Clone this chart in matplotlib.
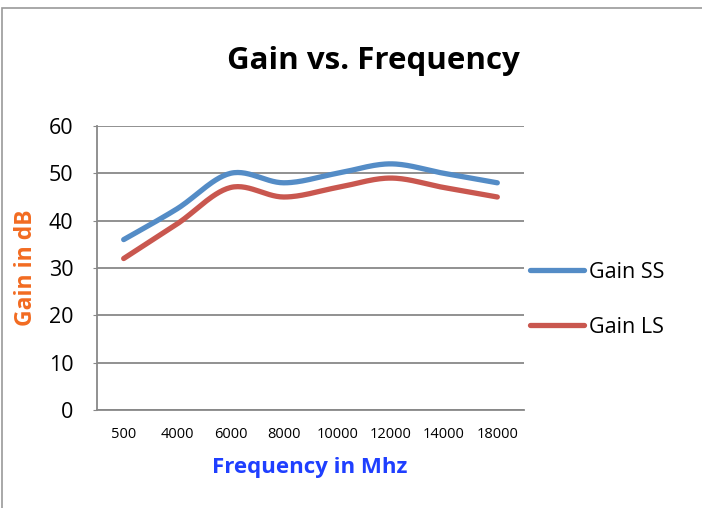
import numpy as np
import matplotlib
matplotlib.use("Agg")
import matplotlib.pyplot as plt
from matplotlib.patches import Rectangle
from matplotlib.lines import Line2D

categories = ["500", "4000", "6000", "8000", "10000", "12000", "14000", "18000"]
gain_ss = [36, 42.5, 50, 48, 50, 52, 50, 48]
gain_ls = [32, 39.3, 47, 45, 47, 49, 47, 45]
series_names = ["Gain SS", "Gain LS"]
colors = ["#548CC6", "#C9574F"]

plt.rcParams['font.family'] = ['Open Sans', 'DejaVu Sans']


def smooth(x, y, n=30):
    # Excel-style smoothed line (Catmull-Rom through the data points)
    x = np.asarray(x, float)
    y = np.asarray(y, float)
    px = np.concatenate([[x[0]], x, [x[-1]]])
    py = np.concatenate([[y[0]], y, [y[-1]]])
    xs, ys = [], []
    for i in range(1, len(px) - 2):
        p0, p1, p2, p3 = (np.array([px[j], py[j]]) for j in (i - 1, i, i + 1, i + 2))
        c1 = p1 + (p2 - p0) / 6
        c2 = p2 - (p3 - p1) / 6
        t = np.linspace(0, 1, n)[:, None]
        pts = ((1 - t) ** 3) * p1 + 3 * ((1 - t) ** 2) * t * c1 + 3 * (1 - t) * t ** 2 * c2 + t ** 3 * p2
        xs.extend(pts[:, 0])
        ys.extend(pts[:, 1])
    return np.array(xs), np.array(ys)


fig = plt.figure(figsize=(7.02, 5.08), dpi=100)
fig.patches.append(Rectangle((2 / 702, -0.01), 1.0, 1 - 8 / 508 + 0.01, transform=fig.transFigure,
                             fill=False, edgecolor="#9a9a9a", linewidth=1.2))

ax = fig.add_axes([97 / 702, (508 - 410) / 508, 427 / 702, 284 / 508])
xpos = np.arange(len(categories))
for vals, name, c in zip([gain_ss, gain_ls], series_names, colors):
    sx, sy = smooth(xpos, vals)
    ax.plot(sx, sy, color=c, linewidth=3.8, solid_capstyle="round", label=name, zorder=3)

ax.set_xlim(-0.5, len(categories) - 0.5)
ax.set_ylim(0, 60)
ax.set_yticks(range(0, 61, 10))
ax.set_xticks(xpos)
ax.set_xticklabels(categories, fontsize=10.5)
ax.tick_params(axis='y', labelsize=15.5, length=3, color="#888888", pad=14)
ax.tick_params(axis='x', length=0, pad=12)
ax.grid(axis='y', color="#888888", linewidth=1.3)
ax.set_axisbelow(True)
for s in ["top", "right"]:
    ax.spines[s].set_visible(False)
for s in ["left", "bottom"]:
    ax.spines[s].set_color("#888888")
    ax.spines[s].set_linewidth(1.3)

fig.text(373 / 702, 1 - 61 / 508, "Gain vs. Frequency", ha="center", va="center",
         fontsize=22.5, fontweight="bold")
fig.text(26 / 702, 1 - 268 / 508, "Gain in dB", ha="center", va="center", rotation=90,
         fontsize=16.5, fontweight="bold", color="#F26B21")
fig.text(310 / 702, 1 - 467 / 508, "Frequency in Mhz", ha="center", va="center",
         fontsize=16, fontweight="bold", color="#1F3FFF")

handles = [Line2D([], [], color=c, linewidth=3.8, solid_capstyle="round") for c in colors]
fig.legend(handles, series_names, loc="center left", bbox_to_anchor=(530 / 702, 1 - 300 / 508),
           frameon=False, fontsize=15.5, handlelength=2.5, handletextpad=0.25, labelspacing=1.58,
           borderaxespad=0, borderpad=0)

fig.savefig("out.png", dpi=100)
